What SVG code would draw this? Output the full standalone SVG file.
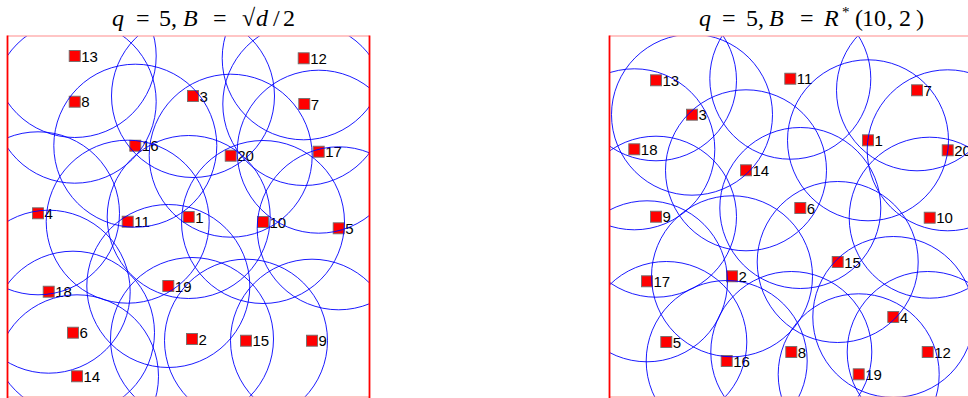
<svg xmlns="http://www.w3.org/2000/svg" width="968" height="398" viewBox="0 0 968 398">
<style>
.sq{fill:#ff0000;stroke:#707070;stroke-width:0.9}
.lb{font-family:"Liberation Sans",Arial,sans-serif;font-size:15px;fill:#000}
.rng circle{fill:none;stroke:#0000ff;stroke-width:0.9}
.ttl{font-family:"Liberation Serif","Times New Roman",serif;font-size:24px;fill:#000}
.it{font-style:italic}
.side{stroke:#ff0000;stroke-width:1.8;fill:none}
.edge{stroke:#ff8c8c;stroke-width:1.2;fill:none}
</style>
<defs>
<clipPath id="clipL"><rect x="7.5" y="36" width="362" height="361"/></clipPath>
<clipPath id="clipR"><rect x="609.5" y="36" width="362" height="361"/></clipPath>
</defs>
<rect width="968" height="398" fill="#fff"/>

<text class="ttl" y="26"><tspan class="it" x="112">q</tspan><tspan x="136">=</tspan><tspan x="159">5</tspan><tspan x="171">,</tspan><tspan class="it" x="183">B</tspan><tspan x="213">=</tspan><tspan x="242">√</tspan><tspan class="it" x="256">d</tspan><tspan x="273">/</tspan><tspan x="283">2</tspan></text>
<text class="ttl" y="26"><tspan class="it" x="699">q</tspan><tspan x="722">=</tspan><tspan x="746">5</tspan><tspan x="758">,</tspan><tspan class="it" x="769">B</tspan><tspan x="800">=</tspan><tspan class="it" x="824">R</tspan><tspan x="842" y="17" font-size="15">*</tspan><tspan x="855" y="26">(</tspan><tspan x="862">10</tspan><tspan x="887">,</tspan><tspan x="899">2</tspan><tspan x="916">)</tspan></text>

<g id="left-plot">
<g id="L1"><rect class="sq" x="183.2" y="211.5" width="11" height="11"/><text class="lb" x="195.2" y="222.5">1</text></g>
<g id="L2"><rect class="sq" x="186.5" y="333.5" width="11" height="11"/><text class="lb" x="198.5" y="344.5">2</text></g>
<g id="L3"><rect class="sq" x="187.5" y="90.5" width="11" height="11"/><text class="lb" x="199.5" y="101.5">3</text></g>
<g id="L4"><rect class="sq" x="32.5" y="207.8" width="11" height="11"/><text class="lb" x="44.5" y="218.8">4</text></g>
<g id="L5"><rect class="sq" x="333.2" y="222.8" width="11" height="11"/><text class="lb" x="345.2" y="233.8">5</text></g>
<g id="L6"><rect class="sq" x="67.5" y="327.2" width="11" height="11"/><text class="lb" x="79.5" y="338.2">6</text></g>
<g id="L7"><rect class="sq" x="298.8" y="98.5" width="11" height="11"/><text class="lb" x="310.8" y="109.5">7</text></g>
<g id="L8"><rect class="sq" x="69.2" y="96.2" width="11" height="11"/><text class="lb" x="81.2" y="107.2">8</text></g>
<g id="L9"><rect class="sq" x="306.5" y="335.2" width="11" height="11"/><text class="lb" x="318.5" y="346.2">9</text></g>
<g id="L10"><rect class="sq" x="257.5" y="216.5" width="11" height="11"/><text class="lb" x="269.5" y="227.5">10</text></g>
<g id="L11"><rect class="sq" x="122.2" y="216.2" width="11" height="11"/><text class="lb" x="134.2" y="227.2">11</text></g>
<g id="L12"><rect class="sq" x="298.2" y="52.8" width="11" height="11"/><text class="lb" x="310.2" y="63.8">12</text></g>
<g id="L13"><rect class="sq" x="69.2" y="50.5" width="11" height="11"/><text class="lb" x="81.2" y="61.5">13</text></g>
<g id="L14"><rect class="sq" x="71.5" y="370.8" width="11" height="11"/><text class="lb" x="83.5" y="381.8">14</text></g>
<g id="L15"><rect class="sq" x="240.5" y="335.2" width="11" height="11"/><text class="lb" x="252.5" y="346.2">15</text></g>
<g id="L16"><rect class="sq" x="129.8" y="140.2" width="11" height="11"/><text class="lb" x="141.8" y="151.2">16</text></g>
<g id="L17"><rect class="sq" x="313.2" y="146.2" width="11" height="11"/><text class="lb" x="325.2" y="157.2">17</text></g>
<g id="L18"><rect class="sq" x="43.2" y="286.2" width="11" height="11"/><text class="lb" x="55.2" y="297.2">18</text></g>
<g id="L19"><rect class="sq" x="162.8" y="280.5" width="11" height="11"/><text class="lb" x="174.8" y="291.5">19</text></g>
<g id="L20"><rect class="sq" x="225.2" y="150.2" width="11" height="11"/><text class="lb" x="237.2" y="161.2">20</text></g>
<g class="rng" clip-path="url(#clipL)">
<circle cx="188.7" cy="217" r="81.5"/><circle cx="192" cy="339" r="81.5"/><circle cx="193" cy="96" r="81.5"/><circle cx="38" cy="213.3" r="81.5"/><circle cx="338.7" cy="228.3" r="81.5"/><circle cx="73" cy="332.7" r="81.5"/><circle cx="304.3" cy="104" r="81.5"/><circle cx="74.7" cy="101.7" r="81.5"/><circle cx="312" cy="340.7" r="81.5"/><circle cx="263" cy="222" r="81.5"/><circle cx="127.7" cy="221.7" r="81.5"/><circle cx="303.7" cy="58.3" r="81.5"/><circle cx="74.7" cy="56" r="81.5"/><circle cx="77" cy="376.3" r="81.5"/><circle cx="246" cy="340.7" r="81.5"/><circle cx="135.3" cy="145.7" r="81.5"/><circle cx="318.7" cy="151.7" r="81.5"/><circle cx="48.7" cy="291.7" r="81.5"/><circle cx="168.3" cy="286" r="81.5"/><circle cx="230.7" cy="155.7" r="81.5"/>
</g>
<line class="edge" x1="7.5" y1="36" x2="369.5" y2="36"/>
<line class="edge" x1="7.5" y1="397" x2="369.5" y2="397"/>
<line class="side" x1="7.5" y1="35.5" x2="7.5" y2="398"/>
<line class="side" x1="369.5" y1="35.5" x2="369.5" y2="398"/>
</g>

<g id="right-plot">
<g id="R1"><rect class="sq" x="862.5" y="134.8" width="11" height="11"/><text class="lb" x="874.5" y="145.8">1</text></g>
<g id="R2"><rect class="sq" x="726.5" y="270.8" width="11" height="11"/><text class="lb" x="738.5" y="281.8">2</text></g>
<g id="R3"><rect class="sq" x="686.5" y="109.2" width="11" height="11"/><text class="lb" x="698.5" y="120.2">3</text></g>
<g id="R4"><rect class="sq" x="887.8" y="311.5" width="11" height="11"/><text class="lb" x="899.8" y="322.5">4</text></g>
<g id="R5"><rect class="sq" x="660.8" y="336.5" width="11" height="11"/><text class="lb" x="672.8" y="347.5">5</text></g>
<g id="R6"><rect class="sq" x="794.8" y="202.5" width="11" height="11"/><text class="lb" x="806.8" y="213.5">6</text></g>
<g id="R7"><rect class="sq" x="911.5" y="84.8" width="11" height="11"/><text class="lb" x="923.5" y="95.8">7</text></g>
<g id="R8"><rect class="sq" x="785.8" y="346.5" width="11" height="11"/><text class="lb" x="797.8" y="357.5">8</text></g>
<g id="R9"><rect class="sq" x="650.5" y="211.2" width="11" height="11"/><text class="lb" x="662.5" y="222.2">9</text></g>
<g id="R10"><rect class="sq" x="924.2" y="212.2" width="11" height="11"/><text class="lb" x="936.2" y="223.2">10</text></g>
<g id="R11"><rect class="sq" x="784.8" y="73.2" width="11" height="11"/><text class="lb" x="796.8" y="84.2">11</text></g>
<g id="R12"><rect class="sq" x="922.2" y="346.5" width="11" height="11"/><text class="lb" x="934.2" y="357.5">12</text></g>
<g id="R13"><rect class="sq" x="650.5" y="74.8" width="11" height="11"/><text class="lb" x="662.5" y="85.8">13</text></g>
<g id="R14"><rect class="sq" x="740.5" y="164.8" width="11" height="11"/><text class="lb" x="752.5" y="175.8">14</text></g>
<g id="R15"><rect class="sq" x="832.2" y="256.5" width="11" height="11"/><text class="lb" x="844.2" y="267.5">15</text></g>
<g id="R16"><rect class="sq" x="721.2" y="355.5" width="11" height="11"/><text class="lb" x="733.2" y="366.5">16</text></g>
<g id="R17"><rect class="sq" x="641.5" y="275.8" width="11" height="11"/><text class="lb" x="653.5" y="286.8">17</text></g>
<g id="R18"><rect class="sq" x="628.8" y="143.8" width="11" height="11"/><text class="lb" x="640.8" y="154.8">18</text></g>
<g id="R19"><rect class="sq" x="853.2" y="368.8" width="11" height="11"/><text class="lb" x="865.2" y="379.8">19</text></g>
<g id="R20"><rect class="sq" x="942.2" y="144.8" width="11" height="11"/><text class="lb" x="954.2" y="155.8">20</text></g>
<g class="rng" clip-path="url(#clipR)">
<circle cx="868" cy="140.3" r="80.5"/><circle cx="732" cy="276.3" r="80.5"/><circle cx="692" cy="114.7" r="80.5"/><circle cx="893.3" cy="317" r="80.5"/><circle cx="666.3" cy="342" r="80.5"/><circle cx="800.3" cy="208" r="80.5"/><circle cx="917" cy="90.3" r="80.5"/><circle cx="791.3" cy="352" r="80.5"/><circle cx="656" cy="216.7" r="80.5"/><circle cx="929.7" cy="217.7" r="80.5"/><circle cx="790.3" cy="78.7" r="80.5"/><circle cx="927.7" cy="352" r="80.5"/><circle cx="656" cy="80.3" r="80.5"/><circle cx="746" cy="170.3" r="80.5"/><circle cx="837.7" cy="262" r="80.5"/><circle cx="726.7" cy="361" r="80.5"/><circle cx="647" cy="281.3" r="80.5"/><circle cx="634.3" cy="149.3" r="80.5"/><circle cx="858.7" cy="374.3" r="80.5"/><circle cx="947.7" cy="150.3" r="80.5"/>
</g>
<line class="edge" x1="609.5" y1="36" x2="968" y2="36"/>
<line class="edge" x1="609.5" y1="397" x2="968" y2="397"/>
<line class="side" x1="609.5" y1="35.5" x2="609.5" y2="398"/>
</g>
</svg>
